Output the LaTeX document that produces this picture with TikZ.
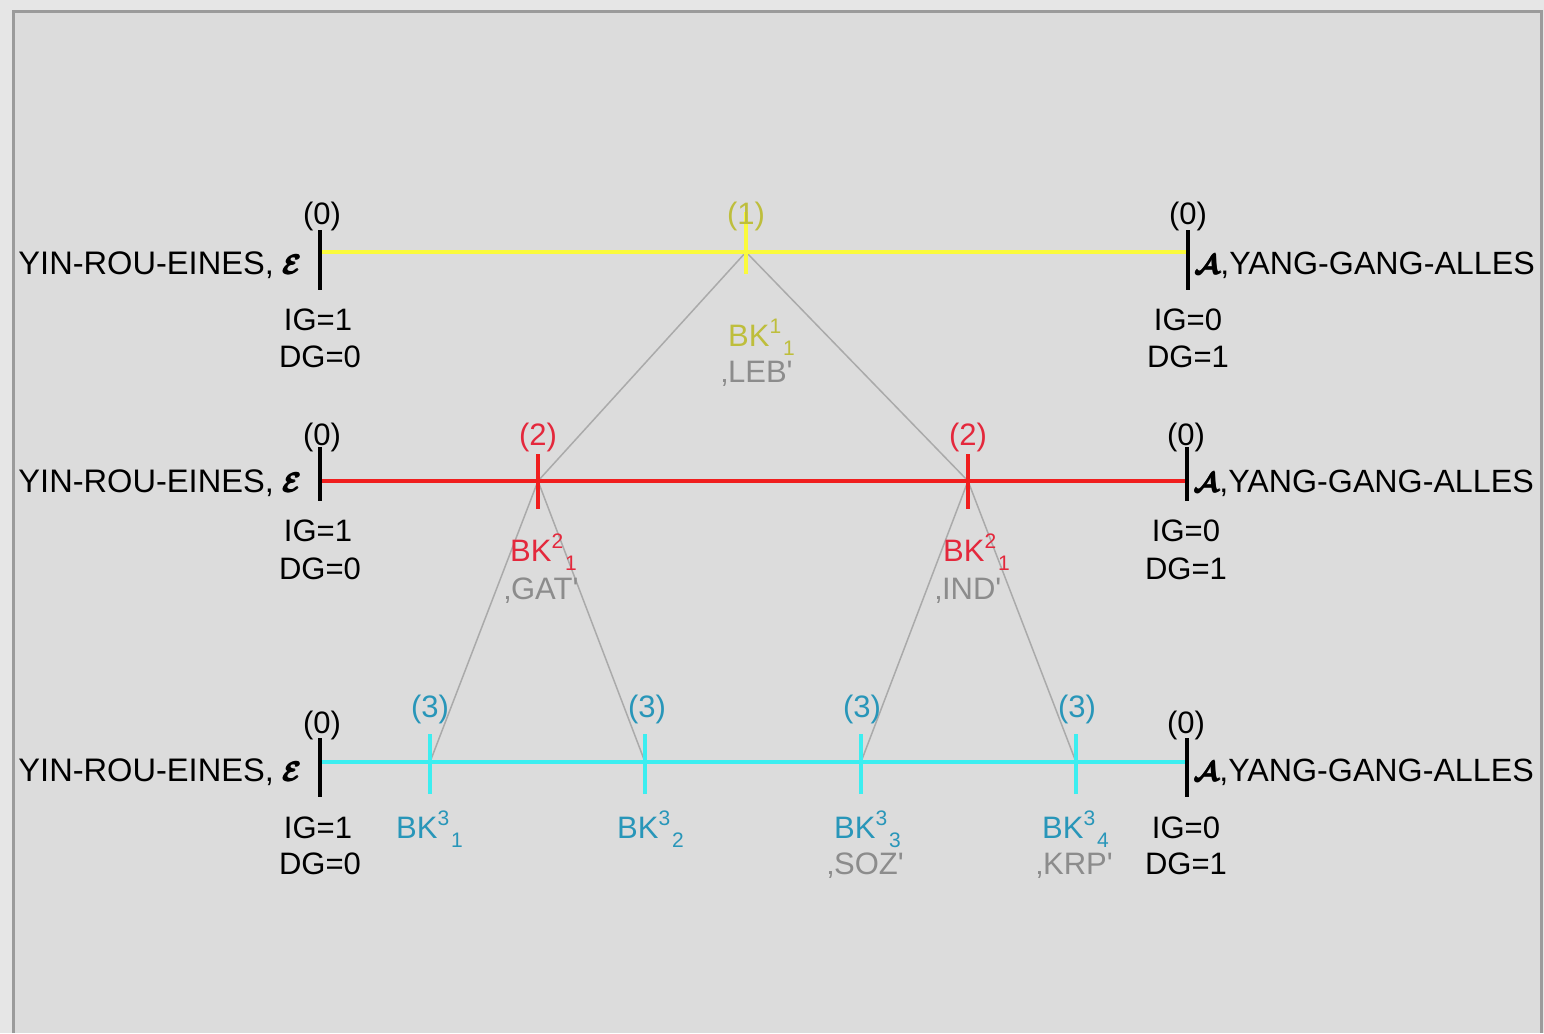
\documentclass[tikz,border=0pt]{standalone}
\usepackage{amsmath}
\usepackage{fontspec}
\setmainfont{Liberation Sans}
\newfontfamily\nomapfont{Liberation Sans}
\usepackage{bm}
\definecolor{outerbg}{RGB}{230,230,230}
\definecolor{panelbg}{RGB}{220,220,220}
\definecolor{framegray}{RGB}{155,155,155}
\definecolor{yelLine}{RGB}{250,250,60}
\definecolor{yelText}{RGB}{190,190,60}
\definecolor{redLine}{RGB}{240,30,30}
\definecolor{redText}{RGB}{228,40,60}
\definecolor{cyaLine}{RGB}{60,238,240}
\definecolor{cyaText}{RGB}{40,150,185}
\definecolor{grayText}{RGB}{140,140,140}
\definecolor{grayLine}{RGB}{170,170,170}
\newcommand{\bkl}[2]{BK\raisebox{13pt}{\fontsize{21}{21}\selectfont #1}\hspace{2pt}\raisebox{-9pt}{\fontsize{21}{21}\selectfont #2}}
\newcommand{\symE}{\scalebox{1.1}{$\pmb{\bm{\mathcal{E}}}$}}
\newcommand{\symA}{\scalebox{1.1}{$\pmb{\bm{\mathcal{A}}}$}}
\newcommand{\sq}{{\nomapfont '}}
\begin{document}
\begin{tikzpicture}[x=1pt,y=-1pt,
  txt/.style={font=\fontsize{31}{34}\selectfont, inner sep=0pt, anchor=base},
  txtw/.style={txt, anchor=base west},
  bigl/.style={txt, font=\fontsize{32.6}{36}\selectfont, anchor=base east},
  bigr/.style={txt, font=\fontsize{32.2}{36}\selectfont, anchor=base west},
  endtick/.style={line width=4pt, black},
  yline/.style={line width=4.5pt, yelLine},
  rline/.style={line width=4pt, redLine},
  cline/.style={line width=4pt, cyaLine},
  conn/.style={line width=1.5pt, grayLine}]
\useasboundingbox (0,0) rectangle (1544,1033);
\fill[outerbg] (0,0) rectangle (1544,1033);
\fill[panelbg] (13,12) rectangle (1541,1033);
\draw[framegray, line width=3pt] (13,1033) -- (13,12) -- (1541,12) -- (1541,1033);

% ---------- coordinates ----------
\coordinate (yL) at (320,252);  \coordinate (yR) at (1188,252);  \coordinate (y1) at (746,252);
\coordinate (rL) at (320,481);  \coordinate (rR) at (1187,481);  \coordinate (r1) at (538,481); \coordinate (r2) at (968,481);
\coordinate (cL) at (320,762);  \coordinate (cR) at (1187,762);
\coordinate (c1) at (430,762);  \coordinate (c2) at (645,762); \coordinate (c3) at (861,762); \coordinate (c4) at (1076,762);

% ---------- gray connectors ----------
\draw[conn] (y1) -- (r1);
\draw[conn] (y1) -- (r2);
\draw[conn] (r1) -- (c1);
\draw[conn] (r1) -- (c2);
\draw[conn] (r2) -- (c3);
\draw[conn] (r2) -- (c4);

% ---------- row 1 (yellow) ----------
\draw[yline] (yL) -- (yR);
\draw[yline] ([yshift=-22pt]y1) -- ([yshift=40pt]y1);
\draw[endtick] (320,230) -- (320,290);
\draw[endtick] (1188,230) -- (1188,290);
\node[bigl] (yin1) at (302,274) {YIN-ROU-EINES, \symE};
\node[bigr] (yang1) at (1195,274) {\symA,YANG-GANG-ALLES};
\node[txt] (z1l) at (322,224) {(0)};
\node[txt] (z1r) at (1188,224) {(0)};
\node[txt, text=yelText] (n1) at (746,224) {(1)};
\node[txt] (ig1l) at (318,330) {IG=1};
\node[txt] (dg1l) at (320,367) {DG=0};
\node[txt] (ig1r) at (1188,330) {IG=0};
\node[txt] (dg1r) at (1188,367) {DG=1};
\node[txtw, text=yelText] (bk11) at (728,346) {\bkl{1}{1}};
\node[txtw, text=grayText] (leb) at (721,382) {‚LEB\sq};

% ---------- row 2 (red) ----------
\draw[rline] (rL) -- (rR);
\draw[rline] ([yshift=-28pt]r1) -- ([yshift=27pt]r1);
\draw[rline] ([yshift=-28pt]r2) -- ([yshift=27pt]r2);
\draw[endtick] (320,447) -- (320,501);
\draw[endtick] (1187,447) -- (1187,501);
\node[bigl] (yin2) at (302,492) {YIN-ROU-EINES, \symE};
\node[bigr] (yang2) at (1194,492) {\symA,YANG-GANG-ALLES};
\node[txt] (z2l) at (322,445) {(0)};
\node[txt] (z2r) at (1186,445) {(0)};
\node[txt, text=redText] (n21) at (538,445) {(2)};
\node[txt, text=redText] (n22) at (968,445) {(2)};
\node[txt] (ig2l) at (318,541) {IG=1};
\node[txt] (dg2l) at (320,579) {DG=0};
\node[txt] (ig2r) at (1186,541) {IG=0};
\node[txt] (dg2r) at (1186,579) {DG=1};
\node[txtw, text=redText] (bk21) at (510,561) {\bkl{2}{1}};
\node[txtw, text=grayText] (gat) at (504,599) {‚GAT\sq};
\node[txtw, text=redText] (bk22) at (943,561) {\bkl{2}{1}};
\node[txtw, text=grayText] (ind) at (935,599) {‚IND\sq};

% ---------- row 3 (cyan) ----------
\draw[cline] (cL) -- (cR);
\foreach \c in {c1,c2,c3,c4}{\draw[cline] ([yshift=-32pt]\c) -- ([yshift=28pt]\c);}
\draw[endtick] (320,738) -- (320,797);
\draw[endtick] (1187,738) -- (1187,797);
\node[bigl] (yin3) at (302,781) {YIN-ROU-EINES, \symE};
\node[bigr] (yang3) at (1194,781) {\symA,YANG-GANG-ALLES};
\node[txt] (z3l) at (322,733) {(0)};
\node[txt] (z3r) at (1186,733) {(0)};
\node[txt, text=cyaText] (n31) at (430,717) {(3)};
\node[txt, text=cyaText] (n32) at (647,717) {(3)};
\node[txt, text=cyaText] (n33) at (862,717) {(3)};
\node[txt, text=cyaText] (n34) at (1077,717) {(3)};
\node[txt] (ig3l) at (318,838) {IG=1};
\node[txt] (dg3l) at (320,874) {DG=0};
\node[txt] (ig3r) at (1186,838) {IG=0};
\node[txt] (dg3r) at (1186,874) {DG=1};
\node[txtw, text=cyaText] (bk31) at (396,838) {\bkl{3}{1}};
\node[txtw, text=cyaText] (bk32) at (617,838) {\bkl{3}{2}};
\node[txtw, text=cyaText] (bk33) at (834,838) {\bkl{3}{3}};
\node[txtw, text=grayText] (soz) at (827,874) {‚SOZ\sq};
\node[txtw, text=cyaText] (bk34) at (1042,838) {\bkl{3}{4}};
\node[txtw, text=grayText] (krp) at (1036,874) {‚KRP\sq};
\end{tikzpicture}
\end{document}
